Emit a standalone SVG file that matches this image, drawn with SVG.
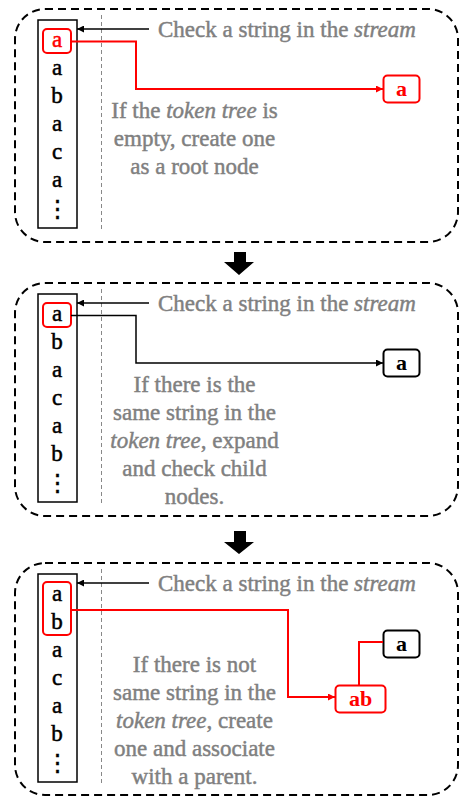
<svg xmlns="http://www.w3.org/2000/svg" width="460" height="797" viewBox="0 0 460 797">
  <defs>
    <marker id="arrowBlack" viewBox="0 0 10 10" refX="10" refY="5" markerWidth="7" markerHeight="7" markerUnits="userSpaceOnUse" orient="auto">
      <path d="M0,0 L10,5 L0,10 z" fill="#000"/>
    </marker>
    <marker id="arrowRed" viewBox="0 0 10 10" refX="10" refY="5" markerWidth="7" markerHeight="7" markerUnits="userSpaceOnUse" orient="auto">
      <path d="M0,0 L10,5 L0,10 z" fill="#ff0000"/>
    </marker>
  </defs>
  <style>
    .panel { fill: none; stroke: #000; stroke-width: 2; stroke-dasharray: 8 5; }
    .divider { stroke: #888; stroke-width: 1; stroke-dasharray: 4 3; }
    .stream { fill: #fff; stroke: #000; stroke-width: 1.5; }
    .sym { font-family: "Liberation Serif", "DejaVu Serif", serif; font-size: 23px; fill: #000; stroke: #000; stroke-width: 0.5; text-anchor: middle; }
    .note { font-family: "Liberation Serif", serif; font-size: 23px; fill: #808080; stroke: #808080; stroke-width: 0.45; }
    .mid { text-anchor: middle; }
    .sel { fill: none; stroke: #ff0000; stroke-width: 2; }
    .node { fill: #fff; stroke: #000; stroke-width: 2; }
    .node-new { fill: #fff; stroke: #ff0000; stroke-width: 2; }
    .lbl { font-family: "Liberation Serif", serif; font-size: 22px; font-weight: bold; text-anchor: middle; fill: #000; }
    .red { fill: #ff0000; stroke: #ff0000; }
    .link { fill: none; stroke: #000; stroke-width: 1.5; }
    .link-new { fill: none; stroke: #ff0000; stroke-width: 2; }
    .ptr { fill: none; stroke: #000; stroke-width: 1.3; }
  </style>

  <!-- Step 1: empty tree, create a root -->
  <g id="step1">
    <rect class="panel" x="15" y="9" width="443" height="233" rx="30"/>
    <line class="divider" x1="101.5" y1="15" x2="101.5" y2="230"/>
    <g id="s1-stream">
      <rect class="stream" x="38" y="20" width="39" height="208"/>
      <text class="sym red" x="57" y="47">a</text>
      <text class="sym" x="57" y="75">a</text>
      <text class="sym" x="57" y="103">b</text>
      <text class="sym" x="57" y="131">a</text>
      <text class="sym" x="57" y="159">c</text>
      <text class="sym" x="57" y="187">a</text>
      <text class="sym" x="57" y="216">⋮</text>
      <rect class="sel" x="43" y="29" width="28" height="24" rx="4"/>
    </g>
    <g id="s1-node-a">
      <rect class="node-new" x="383.5" y="75.5" width="36" height="27" rx="4"/>
      <text class="lbl red" x="401.5" y="96" stroke-width="0">a</text>
    </g>
    <g id="s1-connectors">
      <line class="ptr" x1="149" y1="29" x2="77" y2="29" marker-end="url(#arrowBlack)"/>
      <polyline class="link-new" points="71,41.5 136,41.5 136,89 383,89" marker-end="url(#arrowRed)"/>
    </g>
    <text class="note" x="158" y="37">Check a string in the <tspan font-style="italic">stream</tspan></text>
    <text class="note mid" x="194.5" y="118">If the <tspan font-style="italic">token tree</tspan> is</text>
    <text class="note mid" x="194.5" y="146">empty, create one</text>
    <text class="note mid" x="194.5" y="174">as a root node</text>
  </g>

  <!-- step arrows -->
  <g id="step-arrows">
    <path d="M234,252 H246 V262 H254 L239,275 L224,262 H234 Z" fill="#000"/>
    <path d="M234,531 H246 V542 H254 L239,554 L224,542 H234 Z" fill="#000"/>
  </g>

  <!-- Step 2: string already present, descend -->
  <g id="step2" transform="translate(0,274)">
    <rect class="panel" x="15" y="9" width="443" height="233" rx="30"/>
    <line class="divider" x1="101.5" y1="15" x2="101.5" y2="230"/>
    <g id="s2-stream">
      <rect class="stream" x="38" y="20" width="39" height="208"/>
      <text class="sym" x="57" y="47">a</text>
      <text class="sym" x="57" y="75">b</text>
      <text class="sym" x="57" y="103">a</text>
      <text class="sym" x="57" y="131">c</text>
      <text class="sym" x="57" y="159">a</text>
      <text class="sym" x="57" y="187">b</text>
      <text class="sym" x="57" y="216">⋮</text>
      <rect class="sel" x="43" y="29" width="28" height="24" rx="4"/>
    </g>
    <g id="s2-node-a">
      <rect class="node" x="383.5" y="75.5" width="36" height="27" rx="4"/>
      <text class="lbl" x="401.5" y="96">a</text>
    </g>
    <g id="s2-connectors">
      <line class="ptr" x1="149" y1="29" x2="77" y2="29" marker-end="url(#arrowBlack)"/>
      <polyline class="link" points="71,41.5 136,41.5 136,89 383,89" marker-end="url(#arrowBlack)"/>
    </g>
    <text class="note" x="158" y="37">Check a string in the <tspan font-style="italic">stream</tspan></text>
    <text class="note mid" x="194.5" y="118">If there is the</text>
    <text class="note mid" x="194.5" y="146">same string in the</text>
    <text class="note mid" x="194.5" y="174"><tspan font-style="italic">token tree</tspan>, expand</text>
    <text class="note mid" x="194.5" y="202">and check child</text>
    <text class="note mid" x="194.5" y="230">nodes.</text>
  </g>

  <!-- Step 3: new string, attach to parent -->
  <g id="step3" transform="translate(0,554)">
    <rect class="panel" x="15" y="9" width="443" height="232" rx="30"/>
    <line class="divider" x1="101.5" y1="15" x2="101.5" y2="230"/>
    <g id="s3-stream">
      <rect class="stream" x="38" y="20" width="39" height="208"/>
      <text class="sym" x="57" y="47">a</text>
      <text class="sym" x="57" y="75">b</text>
      <text class="sym" x="57" y="103">a</text>
      <text class="sym" x="57" y="131">c</text>
      <text class="sym" x="57" y="159">a</text>
      <text class="sym" x="57" y="187">b</text>
      <text class="sym" x="57" y="216">⋮</text>
      <rect class="sel" x="43" y="28" width="28" height="53" rx="4"/>
    </g>
    <g id="s3-node-a">
      <rect class="node" x="383.5" y="76.5" width="36" height="27" rx="4"/>
      <text class="lbl" x="401.5" y="97">a</text>
    </g>
    <g id="s3-node-ab">
      <rect class="node-new" x="335.5" y="131.5" width="50" height="27" rx="4"/>
      <text class="lbl red" x="360.5" y="152" stroke-width="0" font-weight="normal">ab</text>
    </g>
    <g id="s3-connectors">
      <line class="ptr" x1="149" y1="29" x2="77" y2="29" marker-end="url(#arrowBlack)"/>
      <polyline class="link-new" points="71,56 288,56 288,143 335,143" marker-end="url(#arrowRed)"/>
      <polyline class="link-new" points="359,131 359,88 383,88"/>
    </g>
    <text class="note" x="158" y="37">Check a string in the <tspan font-style="italic">stream</tspan></text>
    <text class="note mid" x="194.5" y="118">If there is not</text>
    <text class="note mid" x="194.5" y="146">same string in the</text>
    <text class="note mid" x="194.5" y="174"><tspan font-style="italic">token tree</tspan>, create</text>
    <text class="note mid" x="194.5" y="202">one and associate</text>
    <text class="note mid" x="194.5" y="230">with a parent.</text>
  </g>
</svg>
